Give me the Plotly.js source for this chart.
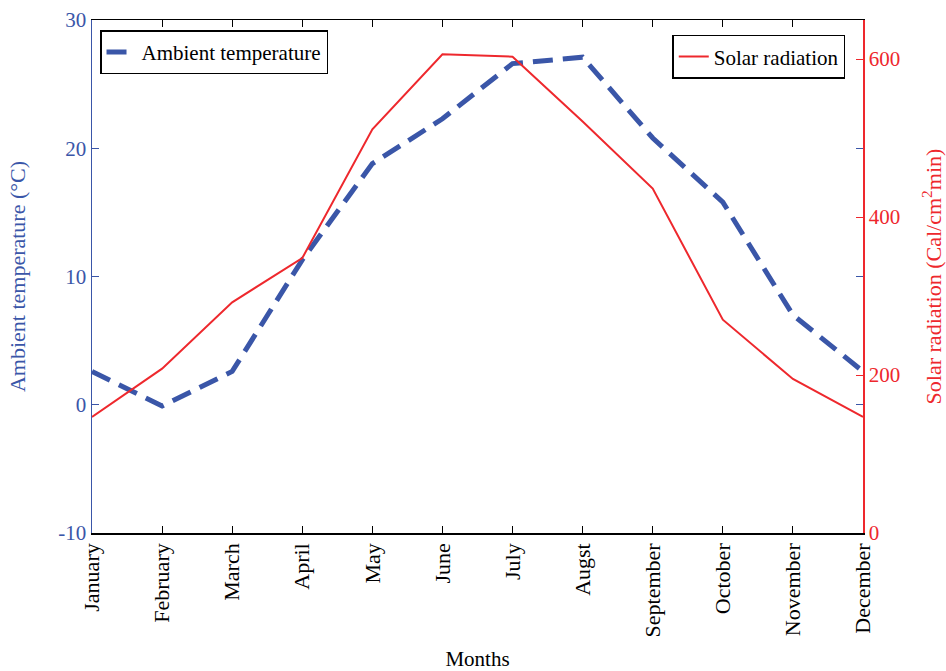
<!DOCTYPE html>
<html>
<head>
<meta charset="utf-8">
<script src="https://cdn.plot.ly/plotly-3.0.1.min.js"></script>
<style>html,body{margin:0;padding:0;background:#fff;}#chart{width:946px;height:671px;}</style>
</head>
<body>
<div id="chart"></div>
<script>
const months = ["January","February","March","April","May","June","July","Augst","September","October","November","December"];
const ambientTemperature = [2.6, -0.1, 2.6, 11.3, 18.8, 22.3, 26.6, 27.1, 20.8, 15.8, 7.0, 2.6];
const solarRadiation = [147, 208, 292, 348, 511, 606, 603, 521, 436, 270, 195, 147];
const leftTicks = [-10, 0, 10, 20, 30];
const leftTickText = ["-10", "0", "10", "20", "30"];
const rightTicks = [0, 200, 400, 600];

const BLUE = "rgb(58,86,168)";
const RED = "rgb(238,40,45)";
const FONT = "Liberation Serif, Times New Roman, serif";

const traces = [
  {x: months, y: ambientTemperature, type: "scatter", mode: "lines", name: "Ambient temperature",
   line: {color: BLUE, width: 5, dash: "20px,10px"}, yaxis: "y", legend: "legend"},
  {x: months, y: solarRadiation, type: "scatter", mode: "lines", name: "Solar radiation",
   line: {color: RED, width: 2}, yaxis: "y2", legend: "legend2"}
];

const layout = {
  width: 946, height: 671,
  margin: {l: 92, r: 83, t: 20, b: 138},
  paper_bgcolor: "#fff", plot_bgcolor: "#fff",
  font: {family: FONT, size: 21, color: "#000"},
  showlegend: true,
  xaxis: {
    type: "category", range: [0, 11], tickangle: -90,
    showline: true, linecolor: "#000", linewidth: 1.5, mirror: "ticks",
    ticks: "inside", ticklen: 7, tickcolor: "#000", showgrid: false, zeroline: false,
    tickfont: {family: FONT, size: 22, color: "#000"},
    title: {text: "Months", font: {family: FONT, size: 21, color: "#000"}, standoff: 18}
  },
  yaxis: {
    range: [-10, 30], tickvals: leftTicks, ticktext: leftTickText,
    showline: true, linecolor: BLUE, linewidth: 1.5, mirror: "ticks",
    ticks: "inside", ticklen: 7, tickcolor: BLUE, showgrid: false, zeroline: false,
    tickfont: {family: FONT, size: 21, color: BLUE},
    title: {text: "Ambient temperature (°C)", font: {family: FONT, size: 22, color: BLUE}, standoff: 26}
  },
  yaxis2: {
    overlaying: "y", side: "right", range: [0, 649.4], tickvals: rightTicks,
    showline: true, linecolor: RED, linewidth: 1.5,
    ticks: "inside", ticklen: 7, tickcolor: RED, showgrid: false, zeroline: false,
    tickfont: {family: FONT, size: 21, color: RED},
    title: {text: "Solar radiation (Cal/cm<sup>2</sup>min)", font: {family: FONT, size: 22, color: RED}, standoff: 30}
  },
  legend: {
    x: 0.0104, y: 0.98, xanchor: "left", yanchor: "top",
    bgcolor: "#fff", bordercolor: "#000", borderwidth: 1.5,
    font: {family: FONT, size: 21, color: "#000"}, itemwidth: 30
  },
  legend2: {
    x: 0.977, y: 0.971, xanchor: "right", yanchor: "top",
    bgcolor: "#fff", bordercolor: "#000", borderwidth: 1.5,
    font: {family: FONT, size: 21, color: "#000"}, itemwidth: 30
  }
};

Plotly.newPlot("chart", traces, layout, {displayModeBar: false, staticPlot: true});
</script>
</body>
</html>
